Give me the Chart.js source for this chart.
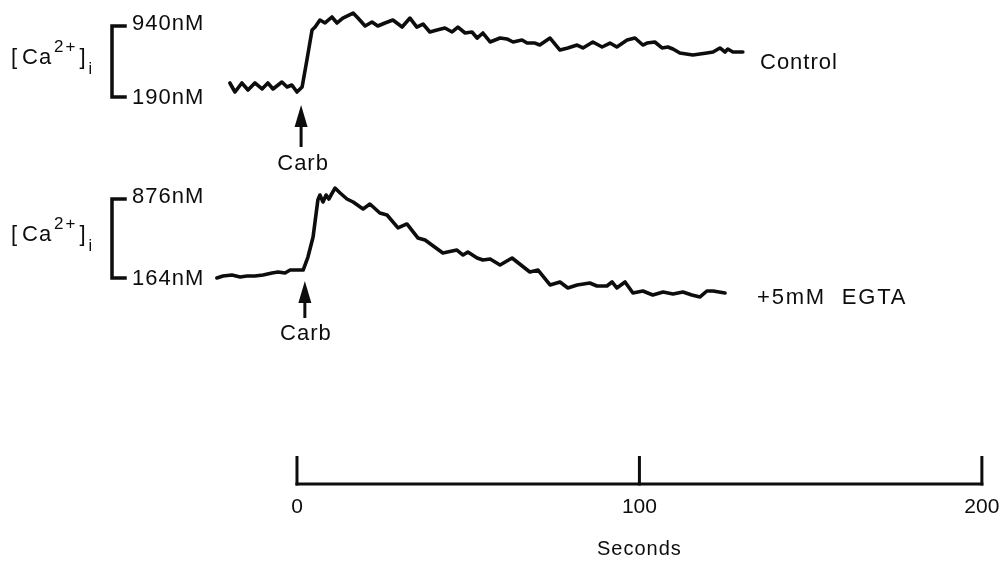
<!DOCTYPE html>
<html>
<head>
<meta charset="utf-8">
<script src="https://cdn.jsdelivr.net/npm/chart.js@4.4.1/dist/chart.umd.min.js"></script>
<style>
  html, body { margin: 0; padding: 0; background: #fff; }
  #wrap { width: 1004px; height: 565px; position: relative; }
</style>
</head>
<body>
<div id="wrap"><canvas id="myChart"></canvas></div>
<script>
// time in seconds (carbachol added at 0), [Ca2+]i in nM
const controlTime = [-19.6, -18.1, -16.1, -14.3, -12.3, -10.2, -8.5, -7.0, -4.4, -2.9, -1.5, 0.0, 1.5, 2.9, 4.4, 5.3,
    6.7, 8.2, 10.2, 11.7, 13.4, 16.4, 17.8, 19.9, 21.9, 23.6, 25.7, 28.0, 30.7, 33.0, 35.0, 36.8, 38.8, 40.9,
    43.2, 45.3, 47.0, 49.1, 51.1, 52.6, 54.3, 56.4, 59.3, 61.3, 63.1, 65.7, 67.2, 69.5, 70.9, 73.9, 76.8, 79.1,
    81.8, 83.5, 86.4, 89.1, 91.4, 93.4, 96.4, 98.7, 101.0, 102.2, 104.5, 106.6, 108.3, 109.8, 111.8, 115.6,
    119.7, 121.5, 123.5, 125.0, 125.8, 127.3, 130.2];
const controlCa = [338, 243, 338, 264, 338, 275, 338, 275, 348, 296, 317, 243, 296, 581, 898, 929,
    1003, 972, 1035, 972, 1024, 1077, 1024, 940, 982, 940, 972, 1003, 929, 1024, 929, 961, 877, 898,
    919, 877, 929, 866, 877, 813, 866, 771, 813, 803, 771, 792, 760, 760, 739, 813, 686, 708,
    739, 708, 771, 718, 760, 718, 792, 813, 739, 760, 771, 708, 718, 697, 655, 634,
    655, 665, 708, 665, 697, 665, 665];

const egtaTime = [-23.4, -21.6, -19.0, -16.6, -14.6, -12.3, -9.9, -7.3, -5.5, -3.5, -2.0, 0.0, 1.8, 3.2, 4.7, 6.1,
    6.7, 7.6, 8.5, 9.3, 11.1, 12.6, 14.6, 16.4, 19.3, 21.3, 24.2, 26.3, 29.5, 32.1, 35.3, 37.4, 42.6, 46.7,
    48.5, 49.9, 52.6, 54.3, 56.4, 59.3, 62.8, 68.0, 70.4, 73.9, 76.8, 79.1, 81.8, 85.5, 87.6, 90.5, 92.0,
    93.4, 95.8, 98.1, 101.0, 103.9, 106.9, 109.8, 112.7, 115.3, 117.7, 119.7, 121.5, 125.0];
const egtaCa = [164, 182, 191, 173, 182, 182, 191, 209, 218, 209, 236, 236, 236, 353, 534, 867,
    912, 849, 912, 876, 975, 930, 876, 849, 786, 831, 750, 732, 615, 651, 525, 506, 389, 416,
    371, 398, 344, 326, 335, 281, 344, 218, 236, 101, 128, 74, 101, 119, 92, 92, 128,
    74, 128, 29, 47, 11, 38, 20, 38, 11, -7, 47, 47, 29];

const controlBracket = [940, 190];
const egtaBracket = [876, 164];
const carbTimes = [1.2, 2.3];
const secondTicks = [0, 100, 200];

const W = 1004, H = 565;
const ink = '#0d0d0d';
const FONT = '"Liberation Sans", Arial, Helvetica, sans-serif';

// min/max for a hidden y scale so that two values land on two given pixel rows
function axisRange(hiVal, hiPx, loVal, loPx) {
    const perPx = (hiVal - loVal) / (loPx - hiPx);
    return { min: loVal - (H - loPx) * perPx, max: hiVal + hiPx * perPx };
}
const rangeC = axisRange(controlBracket[0], 26, controlBracket[1], 97);
const rangeE = axisRange(egtaBracket[0], 199, egtaBracket[1], 278);

function pts(xs, ys) {
    return xs.map((x, i) => ({ x: x, y: ys[i] }));
}

function text(ctx, s, x, y, size, align, spacing) {
    ctx.font = size + 'px ' + FONT;
    ctx.letterSpacing = (spacing || 0) + 'px';
    ctx.textAlign = align || 'left';
    ctx.textBaseline = 'middle';
    ctx.fillText(s, x, y);
    ctx.letterSpacing = '0px';
}

function caLabel(ctx, x, y) {
    ctx.textAlign = 'left';
    ctx.textBaseline = 'middle';
    ctx.font = '300 22px ' + FONT;
    ctx.fillText('[', x, y);
    ctx.font = '22px ' + FONT;
    ctx.letterSpacing = '1px';
    ctx.fillText('Ca', x + 11, y);
    const w = ctx.measureText('Ca').width;
    ctx.font = '17px ' + FONT;
    ctx.letterSpacing = '2px';
    ctx.fillText('2+', x + 11 + w + 2, y - 10);
    const w2 = ctx.measureText('2+').width;
    ctx.letterSpacing = '0px';
    ctx.font = '300 22px ' + FONT;
    ctx.fillText(']', x + 11 + w + w2 + 4, y);
    ctx.font = '16px ' + FONT;
    ctx.fillText('i', x + 11 + w + w2 + 13, y + 12);
}

function bracket(ctx, scale, vals) {
    const top = scale.getPixelForValue(vals[0]);
    const bot = scale.getPixelForValue(vals[1]);
    ctx.lineWidth = 3.5;
    ctx.lineCap = 'square';
    ctx.beginPath();
    ctx.moveTo(125, top);
    ctx.lineTo(112, top);
    ctx.lineTo(112, bot);
    ctx.lineTo(125, bot);
    ctx.stroke();
    text(ctx, vals[0] + 'nM', 132, top - 2, 22, 'left', 1);
    text(ctx, vals[1] + 'nM', 132, bot + 1, 22, 'left', 1);
    caLabel(ctx, 11, (top + bot) / 2 - 4);
}

function arrow(ctx, x, tip, tail) {
    ctx.lineWidth = 3;
    ctx.lineCap = 'butt';
    ctx.beginPath();
    ctx.moveTo(x, tip + 15);
    ctx.lineTo(x, tail);
    ctx.stroke();
    ctx.beginPath();
    ctx.moveTo(x, tip);
    ctx.lineTo(x - 6.5, tip + 22);
    ctx.lineTo(x + 6.5, tip + 22);
    ctx.closePath();
    ctx.fill();
}

const annotations = {
    id: 'annotations',
    afterDatasetsDraw(chart) {
        const ctx = chart.ctx;
        const x = chart.scales.x;
        ctx.save();
        ctx.strokeStyle = ink;
        ctx.fillStyle = ink;

        bracket(ctx, chart.scales.yC, controlBracket);
        bracket(ctx, chart.scales.yE, egtaBracket);

        text(ctx, 'Control', 760, 63, 22, 'left', 1);
        text(ctx, '+5mM  EGTA', 757, 298, 22, 'left', 1.8);

        const a1 = x.getPixelForValue(carbTimes[0]);
        const a2 = x.getPixelForValue(carbTimes[1]);
        arrow(ctx, a1, 105, 147);
        arrow(ctx, a2, 281, 318);
        text(ctx, 'Carb', a1 + 2, 164, 22, 'center', 1);
        text(ctx, 'Carb', a2 + 1, 334, 22, 'center', 1);

        // time bar
        const x0 = x.getPixelForValue(secondTicks[0]);
        const x1 = x.getPixelForValue(secondTicks[secondTicks.length - 1]);
        const base = 484;
        ctx.lineWidth = 3;
        ctx.lineCap = 'butt';
        ctx.beginPath();
        ctx.moveTo(x0 - 1.5, base);
        ctx.lineTo(x1 + 1.5, base);
        ctx.stroke();
        secondTicks.forEach(t => {
            const px = x.getPixelForValue(t);
            ctx.beginPath();
            ctx.moveTo(px, base + 1.5);
            ctx.lineTo(px, base - 28);
            ctx.stroke();
            text(ctx, String(t), px, 507, 21, 'center');
        });
        text(ctx, 'Seconds', x.getPixelForValue(100), 549, 20, 'center', 1);
        ctx.restore();
    }
};

new Chart(document.getElementById('myChart'), {
    type: 'line',
    data: {
        datasets: [
            {
                label: 'Control',
                data: pts(controlTime, controlCa),
                yAxisID: 'yC',
            },
            {
                label: '+5mM EGTA',
                data: pts(egtaTime, egtaCa),
                yAxisID: 'yE',
            }
        ]
    },
    options: {
        responsive: true,
        maintainAspectRatio: false,
        animation: false,
        layout: { padding: { left: 160, right: 5, top: 0, bottom: 0 } },
        elements: {
            point: { radius: 0 },
            line: { borderColor: ink, borderWidth: 3.6, tension: 0, borderJoinStyle: 'round', borderCapStyle: 'round' }
        },
        plugins: { legend: { display: false }, tooltip: { enabled: false } },
        scales: {
            x: { type: 'linear', min: -40, max: 205, display: false },
            yC: { type: 'linear', min: rangeC.min, max: rangeC.max, display: false },
            yE: { type: 'linear', min: rangeE.min, max: rangeE.max, display: false }
        }
    },
    plugins: [annotations]
});
</script>
</body>
</html>
